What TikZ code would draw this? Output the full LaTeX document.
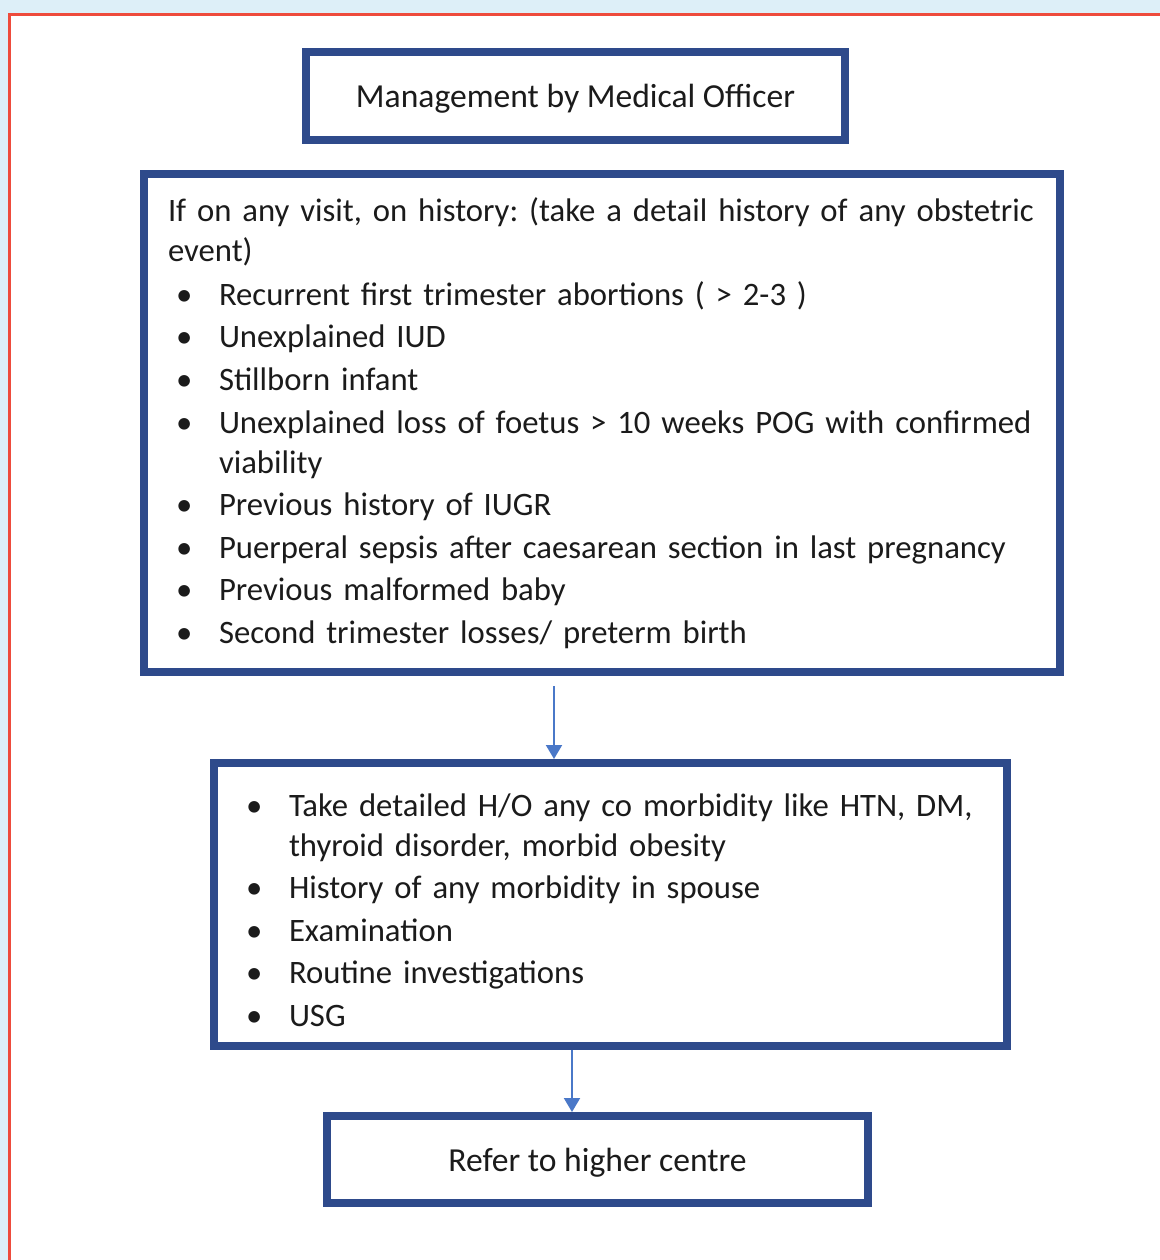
\documentclass[tikz,border=0pt]{standalone}
\usepackage{fontspec}
\setmainfont{Carlito}
\usetikzlibrary{arrows.meta,positioning}
\definecolor{boxblue}{HTML}{2E4A8B}
\definecolor{arrowblue}{HTML}{4A78C8}
\definecolor{framered}{HTML}{EE4B3C}
\definecolor{pageblue}{HTML}{DDEFF8}
\definecolor{inkblack}{HTML}{1B1B1B}
\newenvironment{bulletlist}{%
  \begin{list}{\hspace{4pt}\textbullet\hfill}{%
    \setlength\leftmargin{25.5pt}\setlength\labelwidth{25.5pt}%
    \setlength\labelsep{0pt}\setlength\itemsep{1.3pt}\setlength\parsep{0pt}%
    \setlength\topsep{2pt}\setlength\partopsep{0pt}}%
  \raggedright\hyphenpenalty=10000}%
  {\end{list}}

\begin{document}
\begin{tikzpicture}[
  x=0.5pt, y=-0.5pt,
  box/.style={draw=boxblue, line width=4pt, inner xsep=12pt, inner ysep=0pt,
              text=inkblack, font=\fontsize{16.8}{20.4}\selectfont},
  headbox/.style={box, text depth=0pt},
  listbox/.style={box, align=left, font=\fontsize{16.35}{20}\selectfont,
                  execute at begin node={\raggedright\frenchspacing\hyphenpenalty=10000}},
  ar/.style={-{Triangle[length=7pt,width=8pt]}, draw=arrowblue, fill=arrowblue,
             line width=1pt}]
% page frame
\useasboundingbox (0,0) rectangle (1160,1260);
\fill[pageblue] (0,0) rectangle (1160,1260);
\fill[white] (9,14) rectangle (1160,1260);
\draw[framered, line width=1.5pt] (9,1260) -- (9,14) -- (1160,14);

\node[headbox, minimum width=269.5pt, minimum height=44pt] (mo) at (575.5,96)
  {Management by Medical Officer};
\node[listbox, minimum width=458pt, minimum height=249pt, text width=434pt]
  (hist) at (602,423)
  {If on any visit, on history: (take a detail history of any obstetric\\event)
   \begin{bulletlist}
   \item Recurrent first trimester abortions ( > 2-3 )
   \item Unexplained IUD
   \item Stillborn infant
   \item Unexplained loss of foetus > 10 weeks POG with confirmed\\viability
   \item Previous history of IUGR
   \item Puerperal sepsis after caesarean section in last pregnancy
   \item Previous malformed baby
   \item Second trimester losses/ preterm birth
   \end{bulletlist}};
\node[listbox, minimum width=396.5pt, minimum height=141.5pt, text width=372.5pt]
  (care) at (610.5,904.5)
  {\begin{bulletlist}
   \item Take detailed H/O any co morbidity like HTN, DM,\\thyroid disorder, morbid obesity
   \item History of any morbidity in spouse
   \item Examination
   \item Routine investigations
   \item USG
   \end{bulletlist}\par\vspace{3pt}};
\node[headbox, minimum width=270.5pt, minimum height=43.5pt] (refer) at (597.5,1159.5)
  {Refer to higher centre};

\coordinate (a1) at (554,0);
\coordinate (a2) at (572,0);
\draw[ar] ([yshift=-5pt]hist.south -| a1) -- (care.north -| a1);
\draw[ar] (care.south -| a2) -- (refer.north -| a2);
\end{tikzpicture}
\end{document}
